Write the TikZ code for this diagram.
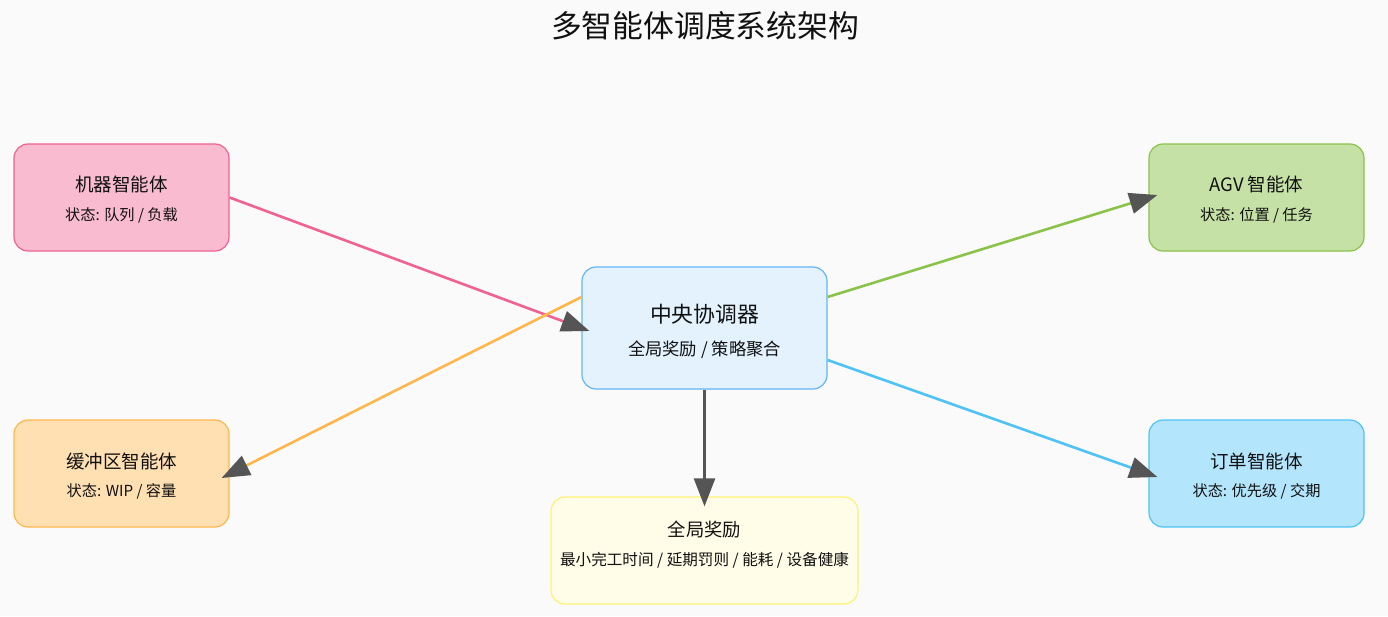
\documentclass[tikz,border=0pt]{standalone}
\usepackage{fontspec}
\setmainfont{Noto Sans CJK SC}
\usetikzlibrary{arrows.meta,calc}
\definecolor{bg}{HTML}{FAFAFA}
\definecolor{txt}{HTML}{111111}
\definecolor{headgray}{HTML}{555555}
\definecolor{pinkfill}{HTML}{F8BBD0}\definecolor{pinkline}{HTML}{F06292}
\definecolor{greenfill}{HTML}{C5E1A5}\definecolor{greenline}{HTML}{8BC34A}
\definecolor{bluefill}{HTML}{E3F2FD}\definecolor{blueline}{HTML}{64B5F6}
\definecolor{orangefill}{HTML}{FFE0B2}\definecolor{orangeline}{HTML}{FFB74D}
\definecolor{cyanfill}{HTML}{B3E5FC}\definecolor{cyanline}{HTML}{4FC3F7}
\definecolor{yellowfill}{HTML}{FFFDE7}\definecolor{yellowline}{HTML}{FFF176}
\tikzset{
  box/.style={draw, rectangle, rounded corners=14pt, line width=1.2pt, inner sep=0pt,
    minimum width=215pt, minimum height=107pt},
  ttl/.style={text=txt, font=\fontsize{18.5}{21}\selectfont, inner sep=0pt},
  sub/.style={text=txt, font=\fontsize{15.2}{17}\selectfont, inner sep=0pt},
  conn/.style={line width=2.6pt, -{Triangle[length=28pt,width=21pt,color=headgray]}}
}
\begin{document}
\begin{tikzpicture}[x=1pt,y=-1pt]
\path[fill=bg,use as bounding box] (0,0) rectangle (1388,616);
\node[text=txt, font=\fontsize{30.8}{34}\selectfont, inner sep=0pt] (title) at (705,26) {多智能体调度系统架构};

\node[box, fill=pinkfill, draw=pinkline] (m) at (121.5,197.5) {};
\node[ttl] (mt) at (121.5,184) {机器智能体};
\node[sub] (ms) at (121.5,215.5) {状态: 队列 / 负载};

\node[box, fill=greenfill, draw=greenline] (a) at (1256.5,197.5) {};
\node[ttl] (at) at (1256.5,184) {AGV 智能体};
\node[sub] (as) at (1256.5,215.5) {状态: 位置 / 任务};

\node[box, fill=orangefill, draw=orangeline] (b) at (121.5,473.5) {};
\node[ttl] (bt) at (121.5,461) {缓冲区智能体};
\node[sub] (bs) at (121.5,491.5) {状态: WIP / 容量};

\node[box, fill=cyanfill, draw=cyanline] (o) at (1256.5,473.5) {};
\node[ttl] (ot) at (1256.5,461) {订单智能体};
\node[sub] (os) at (1256.5,491.5) {状态: 优先级 / 交期};

\node[box, fill=bluefill, draw=blueline, minimum width=245pt, minimum height=122pt] (c) at (704.5,328) {};
\node[ttl, font=\fontsize{21.8}{24}\selectfont] (ct) at (704.5,314) {中央协调器};
\node[sub, font=\fontsize{17.3}{19}\selectfont] (cs) at (704.5,350) {全局奖励 / 策略聚合};

\node[box, fill=yellowfill, draw=yellowline, minimum width=307pt] (r) at (704.5,550.5) {};
\node[ttl, font=\fontsize{18.3}{20}\selectfont] (rt) at (704.5,529) {全局奖励};
\node[sub, font=\fontsize{15.6}{18}\selectfont] (rs) at (704.5,560) {最小完工时间 / 延期罚则 / 能耗 / 设备健康};

\coordinate (mtip) at ($(c.west)+(8,3)$);
\coordinate (bsrc) at ($(c.west)+(0,-31)$);
\coordinate (btip) at ($(b.east)+(-8,4.5)$);
\coordinate (asrc) at ($(c.east)+(0,-31)$);
\coordinate (atip) at ($(a.west)+(9,-2.5)$);
\coordinate (osrc) at ($(c.east)+(0,32)$);
\coordinate (otip) at ($(o.west)+(9,3.5)$);
\coordinate (rtip) at ($(r.north)+(0,10)$);

\draw[conn, pinkline] (m.east) -- (mtip);
\draw[conn, orangeline] (bsrc) -- (btip);
\draw[conn, greenline] (asrc) -- (atip);
\draw[conn, cyanline] (osrc) -- (otip);
\draw[conn, headgray] (c.south) -- (rtip);
\end{tikzpicture}
\end{document}
